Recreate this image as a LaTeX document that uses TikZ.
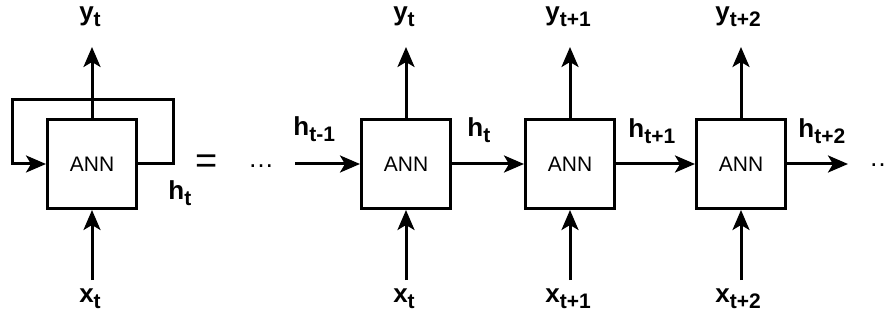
\documentclass[tikz,border=0pt]{standalone}
\usepackage{fontspec}
\setmainfont{Liberation Sans}
\usetikzlibrary{arrows.meta}
\tikzstyle{ann}=[rectangle,draw=black,fill=white,line width=1.5pt,minimum width=44.5pt,minimum height=44.5pt,inner sep=0pt,font=\fontsize{10.5}{12}\selectfont]
\tikzstyle{arr}=[-{Stealth[length=10pt,width=8.5pt,inset=2.5pt]},draw=black,line width=1.5pt]
\tikzstyle{lbl}=[anchor=base,inner sep=0pt]
\newcommand{\seq}[2]{{\bfseries\fontsize{13}{15}\selectfont #1\raisebox{-3pt}{\fontsize{10.5}{12}\selectfont #2}}}

\begin{document}
\begin{tikzpicture}[x=0.5pt,y=-0.5pt]
        \useasboundingbox (0,0) rectangle (888,320);
        \node[ann] (N0) at (92,164) {ANN};
        \node[ann] (N1) at (406,164) {ANN};
        \node[ann] (N2) at (570,164) {ANN};
        \node[ann] (N3) at (741,164) {ANN};
        \node[lbl] (Y0) at (90,21) {\seq{y}{t}};
        \node[lbl] (Y1) at (404,21) {\seq{y}{t}};
        \node[lbl] (Y2) at (568,21) {\seq{y}{t+1}};
        \node[lbl] (Y3) at (738,21) {\seq{y}{t+2}};
        \node[lbl] (X0) at (90,302) {\seq{x}{t}};
        \node[lbl] (X1) at (404,302) {\seq{x}{t}};
        \node[lbl] (X2) at (568,302) {\seq{x}{t+1}};
        \node[lbl] (X3) at (738,302) {\seq{x}{t+2}};
        \node[lbl,anchor=base west] (H0) at (168,199) {\seq{h}{t}};
        \node[lbl,anchor=base west] (H1) at (293,136) {\seq{h}{t-1}};
        \node[lbl,anchor=base west] (H2) at (467,137) {\seq{h}{t}};
        \node[lbl,anchor=base west] (H3) at (628,138) {\seq{h}{t+1}};
        \node[lbl,anchor=base west] (H4) at (798,138) {\seq{h}{t+2}};
        \node[inner sep=0pt] (eq) at (207,164) {\fontsize{19}{21}\selectfont =};
        \node[lbl] (D0) at (261,168) {\fontsize{13}{15}\selectfont …};
        \node[lbl] (D1) at (882,167) {\fontsize{13}{15}\selectfont …};
        \coordinate (T0) at (92,47);
        \coordinate (T1) at (406,47);
        \coordinate (T2) at (570,47);
        \coordinate (T3) at (741,47);
        \coordinate (B0) at (92,280);
        \coordinate (B1) at (406,280);
        \coordinate (B2) at (570,280);
        \coordinate (B3) at (741,280);
        \coordinate (L1) at (173,100);
        \coordinate (L2) at (12,100);
        \coordinate (S) at (295,164);
        \coordinate (E) at (848,164);
        \draw[arr] (N0.east) -| (L1) -- (L2) |- (N0.west);
        \draw[arr] (N0.north) -- (T0);
        \draw[arr] (N1.north) -- (T1);
        \draw[arr] (N2.north) -- (T2);
        \draw[arr] (N3.north) -- (T3);
        \draw[arr] (B0) -- (N0.south);
        \draw[arr] (B1) -- (N1.south);
        \draw[arr] (B2) -- (N2.south);
        \draw[arr] (B3) -- (N3.south);
        \draw[arr] (S) -- (N1.west);
        \draw[arr] (N1) -- (N2);
        \draw[arr] (N2) -- (N3);
        \draw[arr] (N3.east) -- (E);
      \end{tikzpicture}
\end{document}
